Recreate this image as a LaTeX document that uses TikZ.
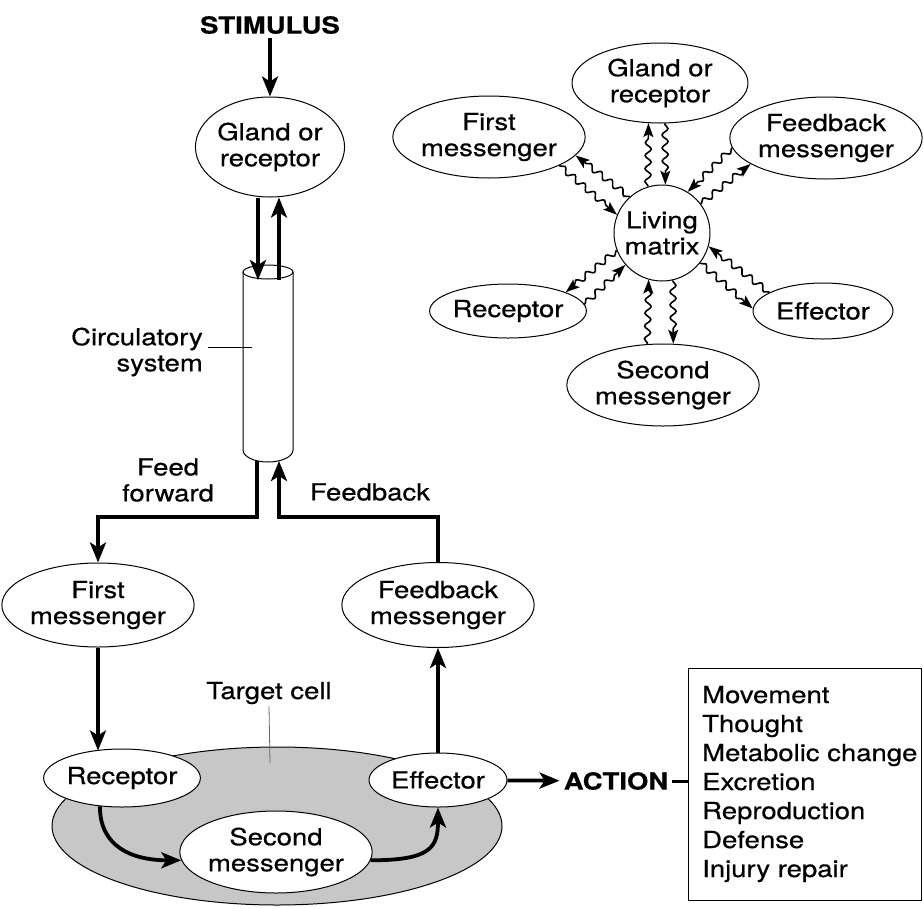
\documentclass[tikz,border=0pt]{standalone}
\usepackage{fontspec}
\setmainfont[FakeStretch=1.17,FakeBold=0.5]{TeX Gyre Heros}
\usetikzlibrary{arrows.meta,decorations.pathmorphing,shapes.geometric,calc}
\begin{document}
\begin{tikzpicture}[x=1pt,y=-1pt,
  font=\fontsize{23.5}{26}\selectfont,
  el/.style={ellipse, draw, line width=1pt, inner sep=0pt, align=center, fill=white},
  thk/.style={line width=3.8pt, -{Stealth[length=20pt,width=16pt,inset=5pt]}},
  thkline/.style={line width=3.8pt},
  thin/.style={line width=1pt},
  wavy/.style={line width=1.6pt, -{Stealth[length=14pt,width=10pt,inset=3pt]}, decorate,
    decoration={snake, amplitude=3pt, segment length=13pt, pre length=1pt, post length=9pt}},
  lead/.style={line width=0.8pt}
]
\useasboundingbox (0,0) rectangle (923,908);

% ---------------- left column ----------------
\node[font=\bfseries\fontsize{23.5}{26}\selectfont, inner sep=4pt] (stim) at (270,25) {STIMULUS};
\node[el, minimum width=140pt, minimum height=100pt] (gl1) at (270,147) {Gland or\\receptor};
\draw[thk] (stim) -- (gl1);

% cylinder
\draw[thin] (243,272) -- (243,450) arc[start angle=180,end angle=0,x radius=25,y radius=12] -- (293,272);
\draw[thin] (268,272) ellipse[x radius=25,y radius=7];
\coordinate (cin) at (258,280);
\coordinate (cout) at (279,280);
\draw[thk] (gl1.south -| cin) -- (cin);
\draw[thk] (cout) -- (gl1.south -| cout);

\node[anchor=east, align=right, inner sep=0pt] (circ) at (203,352) {Circulatory\\system};
\coordinate (circend) at (252,347);
\draw[lead] (208,347) -- (circend);

% feed forward / feedback
\coordinate (cbl) at (257,461);
\coordinate (cbr) at (279,461);
\coordinate (ffc) at (257,517);
\coordinate (fbc) at (279,517);
\node[align=center, inner sep=0pt] (fflab) at (168,480) {Feed\\forward};
\node[inner sep=0pt] (fblab) at (370,492) {Feedback};

\node[el, minimum width=176pt, minimum height=84pt] (fm1) at (98,605) {First\\messenger};
\node[el, minimum width=176pt, minimum height=85pt] (fbm) at (438,605) {Feedback\\messenger};

\draw[thk] (cbl) -- (ffc) -| (fm1);
\draw[thk] (fbm) |- (fbc) -- (cbr);

% target cell
\node[ellipse, draw, line width=1pt, fill=black!22, minimum width=450pt, minimum height=158pt, inner sep=0pt] (cell) at (277,826) {};
\node[inner sep=2pt] (tcl) at (269,693) {Target cell};
\coordinate (tcend) at (270,763);
\draw[lead, black!60] (tcl.south) -- (tcend);

\node[el, minimum width=140pt, minimum height=58pt] (rec1) at (122,778) {Receptor};
\node[el, minimum width=176pt, minimum height=82pt] (sm) at (276,852) {Second\\messenger};
\node[el, minimum width=138pt, minimum height=54pt] (eff1) at (438,780) {Effector};

\draw[thk] (fm1.south) -- ($(fm1.south |- rec1.north)+(0,2)$);
\draw[thk] (rec1.232) .. controls +(0,40) and +(-50,0) .. (sm.185);
\draw[thk] (sm.-5) .. controls +(60,0) and +(0,40) .. (eff1.south);
\draw[thk] (eff1) -- (fbm);

% action
\node[font=\bfseries\fontsize{23.5}{26}\selectfont, inner sep=4pt] (action) at (616,781) {ACTION};
\draw[thk] (eff1) -- (action);
\node[draw, line width=1pt, minimum width=233pt, minimum height=232pt, anchor=west, inner sep=0pt] (box) at (688,784) {};
\node[anchor=west, align=left, inner sep=0pt, font=\fontsize{23.5}{29}\selectfont] (acts) at (702,784)
  {Movement\\Thought\\Metabolic change\\Excretion\\Reproduction\\Defense\\Injury repair};
\draw[thkline, line width=3pt] (action.east) -- (action.east -| box.west);

% ---------------- right cluster ----------------
\node[circle, draw, line width=1pt, minimum size=96pt, inner sep=0pt, align=center] (lm) at (662,233) {Living\\matrix};
\node[el, minimum width=176pt, minimum height=80pt] (gl2) at (660,83) {Gland or\\receptor};
\node[el, minimum width=174pt, minimum height=82pt] (fm2) at (489,137) {First\\messenger};
\node[el, minimum width=176pt, minimum height=82pt] (fbm2) at (826,138) {Feedback\\messenger};
\node[el, minimum width=140pt, minimum height=54pt] (rec2) at (508,311) {Receptor};
\node[el, minimum width=140pt, minimum height=56pt] (eff2) at (823,311) {Effector};
\node[el, minimum width=176pt, minimum height=82pt] (sm2) at (663,385) {Second\\messenger};

\draw[wavy] (lm.107) -- (gl2.254);
\draw[wavy] (gl2.277) -- (lm.86);
\draw[wavy] (fm2.-22) -- (lm.158);
\draw[wavy] (lm.132) -- (fm2.-12);
\draw[wavy] (lm.37) -- (fbm2.199);
\draw[wavy] (fbm2.186) -- (lm.58);
\draw[wavy] (lm.201) -- (rec2.18);
\draw[wavy] (rec2.5) -- (lm.221);
\draw[wavy] (sm2.111) -- (lm.254);
\draw[wavy] (lm.283) -- (sm2.76);
\draw[wavy] (eff2.161) -- (lm.-16);
\draw[wavy] (lm.-38) -- (eff2.178);
\end{tikzpicture}
\end{document}
